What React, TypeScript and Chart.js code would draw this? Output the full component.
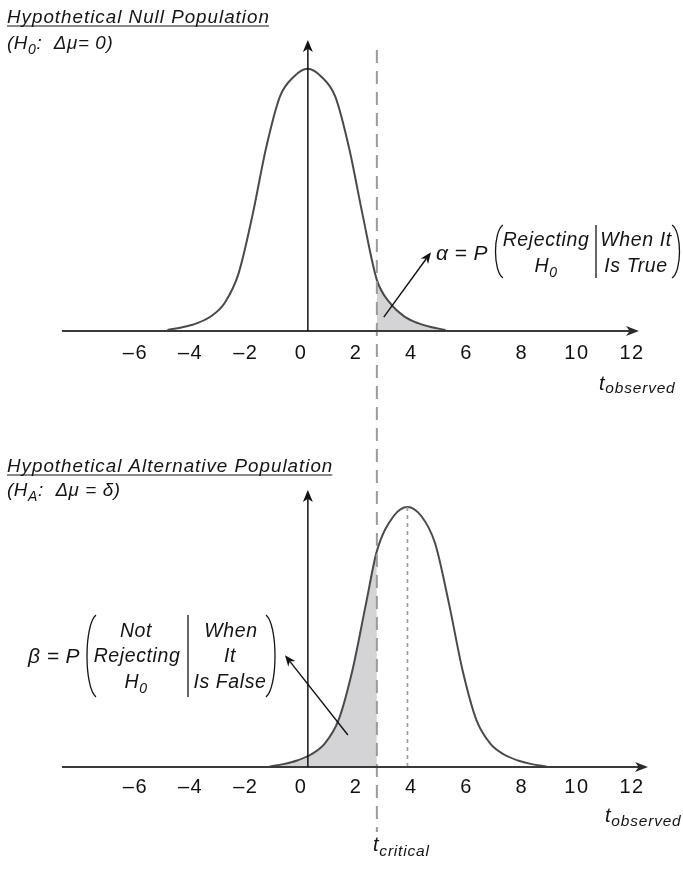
import React, { useEffect, useRef } from 'react';
import { Chart, registerables } from 'chart.js';

Chart.register(...registerables);

// ---------- data (t in axis units) ----------
const X_MIN = -8.66;
const X_MAX = 12.25;
const TICK_VALUES = [-6, -4, -2, 0, 2, 4, 6, 8, 10, 12];
const T_CRITICAL = 2.75;
const Y_AXIS_AT = 0.25;
const ALT_MEAN = 3.86;

const NULL_T = [-4.84, -4.26, -3.76, -3.26, -2.76, -2.26, -1.76, -1.26, -0.76, -0.26, 0.24, 0.74, 1.24, 1.74, 2.24, 2.75, 3.24, 3.74, 4.24, 4.74, 5.24];
const NULL_Y = [0.004, 0.015, 0.03, 0.056, 0.108, 0.22, 0.44, 0.7, 0.895, 0.97, 1.0, 0.97, 0.895, 0.7, 0.44, 0.195, 0.105, 0.056, 0.03, 0.014, 0.004];

const ALT_T = [-1.14, -0.64, -0.14, 0.36, 0.86, 1.36, 1.86, 2.36, 2.75, 3.36, 3.86, 4.36, 4.86, 5.36, 5.86, 6.36, 6.86, 7.36, 7.86, 8.36, 8.9];
const ALT_Y = [0.002, 0.011, 0.025, 0.048, 0.09, 0.18, 0.37, 0.63, 0.83, 0.965, 1.0, 0.965, 0.86, 0.63, 0.37, 0.18, 0.09, 0.048, 0.025, 0.011, 0.002];

const ALPHA_ARROW_FROM = [3.0, 0.053];
const ALPHA_ARROW_TO = [4.71, 0.3];
const BETA_ARROW_FROM = [1.7, 0.123];
const BETA_ARROW_TO = [-0.58, 0.43];

// ---------- styling ----------
const FONT = '"Liberation Sans", Arial, Helvetica, sans-serif';
const TEXT = '#141414';
const CURVE = '#4a4a4a';
const SHADE = '#d4d4d6';
const DASH = '#9a9a9a';

type Run = { t: string; s: number; dy?: number };
type TextItem = { runs: Run[]; x: number; y: number; align?: 'left' | 'center'; sp?: number; underline?: boolean };

const TEXTS: TextItem[] = [
  { runs: [{ t: 'Hypothetical Null Population', s: 18.8 }], x: 7, y: 23, sp: 1.0, underline: true },
  { runs: [{ t: '(H', s: 18.8 }, { t: '0', s: 14, dy: 5 }, { t: ':  Δμ= 0)', s: 18.8 }], x: 7, y: 49, sp: 0.6 },
  { runs: [{ t: 'Hypothetical Alternative Population', s: 18.8 }], x: 7, y: 472, sp: 1.0, underline: true },
  { runs: [{ t: '(H', s: 18.8 }, { t: 'A', s: 14, dy: 5 }, { t: ':  Δμ = δ)', s: 18.8 }], x: 7, y: 496, sp: 0.6 },
  // alpha annotation
  { runs: [{ t: 'α = P', s: 21 }], x: 436, y: 260, sp: 0.4 },
  { runs: [{ t: 'Rejecting', s: 19.5 }], x: 546, y: 246, align: 'center', sp: 0.6 },
  { runs: [{ t: 'H', s: 19.5 }, { t: '0', s: 14, dy: 5 }], x: 546, y: 272, align: 'center', sp: 0.6 },
  { runs: [{ t: 'When It', s: 19.5 }], x: 636, y: 246, align: 'center', sp: 0.6 },
  { runs: [{ t: 'Is True', s: 19.5 }], x: 636, y: 272, align: 'center', sp: 0.6 },
  // beta annotation
  { runs: [{ t: 'β = P', s: 21 }], x: 28, y: 663, sp: 0.4 },
  { runs: [{ t: 'Not', s: 19.5 }], x: 136, y: 637, align: 'center', sp: 0.6 },
  { runs: [{ t: 'Rejecting', s: 19.5 }], x: 137, y: 662, align: 'center', sp: 0.6 },
  { runs: [{ t: 'H', s: 19.5 }, { t: '0', s: 14, dy: 5 }], x: 136, y: 688, align: 'center', sp: 0.6 },
  { runs: [{ t: 'When', s: 19.5 }], x: 231, y: 637, align: 'center', sp: 0.6 },
  { runs: [{ t: 'It', s: 19.5 }], x: 230, y: 662, align: 'center', sp: 0.6 },
  { runs: [{ t: 'Is False', s: 19.5 }], x: 230, y: 688, align: 'center', sp: 0.6 },
  // axis titles
  { runs: [{ t: 't', s: 20 }, { t: 'observed', s: 15.5, dy: 3 }], x: 599, y: 390, sp: 0.8 },
  { runs: [{ t: 't', s: 20 }, { t: 'observed', s: 15.5, dy: 4 }], x: 605, y: 822, sp: 0.8 },
  { runs: [{ t: 't', s: 20 }, { t: 'critical', s: 15.5, dy: 5 }], x: 373, y: 851, sp: 0.8 },
];

// parentheses & bars (page coords)
const PARENS = [
  { x: 493, w: 10, y0: 225, y1: 278, side: 'l' },
  { x: 672, w: 10, y0: 225, y1: 278, side: 'r' },
  { x: 84, w: 12, y0: 615, y1: 697, side: 'l' },
  { x: 266, w: 12, y0: 615, y1: 697, side: 'r' },
];
const BARS = [
  { x: 596, y0: 225, y1: 278 },
  { x: 188, y0: 615, y1: 697 },
];
const DASH_Y0 = 50;
const DASH_Y1 = 832;

type Panel = {
  top: number; height: number; areaTop: number; areaBottom: number; yMax: number;
  t: number[]; y: number[]; shadeRight: boolean; tickPad: number; tipExtra: number;
  showMean: boolean; arrowFrom: number[]; arrowTo: number[];
};

const PANELS: Panel[] = [
  { top: 0, height: 435, areaTop: 40, areaBottom: 331, yMax: 1.11, t: NULL_T, y: NULL_Y, shadeRight: true, tickPad: 10, tipExtra: 0, showMean: false, arrowFrom: ALPHA_ARROW_FROM, arrowTo: ALPHA_ARROW_TO },
  { top: 435, height: 434, areaTop: 55, areaBottom: 332, yMax: 1.065, t: ALT_T, y: ALT_Y, shadeRight: false, tickPad: 8, tipExtra: 9, showMean: true, arrowFrom: BETA_ARROW_FROM, arrowTo: BETA_ARROW_TO },
];

function measureRuns(ctx: CanvasRenderingContext2D, runs: Run[]) {
  let w = 0;
  for (const r of runs) {
    ctx.font = `italic ${r.s}px ${FONT}`;
    w += ctx.measureText(r.t).width;
  }
  return w;
}

function drawText(ctx: CanvasRenderingContext2D, it: TextItem) {
  ctx.save();
  (ctx as any).letterSpacing = `${it.sp ?? 0}px`;
  ctx.fillStyle = TEXT;
  ctx.textAlign = 'left';
  ctx.textBaseline = 'alphabetic';
  const w = measureRuns(ctx, it.runs);
  let x = it.align === 'center' ? it.x - w / 2 : it.x;
  const x0 = x;
  for (const r of it.runs) {
    ctx.font = `italic ${r.s}px ${FONT}`;
    ctx.fillText(r.t, x, it.y + (r.dy ?? 0));
    x += ctx.measureText(r.t).width;
  }
  if (it.underline) {
    ctx.strokeStyle = TEXT;
    ctx.lineWidth = 1.2;
    ctx.beginPath();
    ctx.moveTo(x0, it.y + 3);
    ctx.lineTo(x0 + w - (it.sp ?? 0), it.y + 3);
    ctx.stroke();
  }
  ctx.restore();
}

function arrowHead(ctx: CanvasRenderingContext2D, tx: number, ty: number, ang: number, len: number, hw: number) {
  const c = Math.cos(ang), s = Math.sin(ang);
  const bx = tx - len * c, by = ty - len * s;
  ctx.beginPath();
  ctx.moveTo(tx, ty);
  ctx.lineTo(bx - hw * s, by + hw * c);
  ctx.lineTo(tx - len * 0.72 * c, ty - len * 0.72 * s);
  ctx.lineTo(bx + hw * s, by - hw * c);
  ctx.closePath();
  ctx.fill();
}

function arrow(ctx: CanvasRenderingContext2D, x1: number, y1: number, x2: number, y2: number, len: number, hw: number, color: string, lw: number) {
  const ang = Math.atan2(y2 - y1, x2 - x1);
  ctx.save();
  ctx.strokeStyle = color;
  ctx.fillStyle = color;
  ctx.lineWidth = lw;
  ctx.beginPath();
  ctx.moveTo(x1, y1);
  ctx.lineTo(x2 - len * 0.75 * Math.cos(ang), y2 - len * 0.75 * Math.sin(ang));
  ctx.stroke();
  arrowHead(ctx, x2, y2, ang, len, hw);
  ctx.restore();
}

function makeOverlay(p: Panel) {
  return {
    id: 'overlay',
    beforeDraw(chart: any) {
      (chart.ctx as any).letterSpacing = '1.5px';
    },
    afterDatasetsDraw(chart: any) {
      const ctx: CanvasRenderingContext2D = chart.ctx;
      (ctx as any).letterSpacing = '0px';
      const xs = chart.scales.x, ys = chart.scales.y;
      ctx.save();
      if (p.showMean) {
        const mx = xs.getPixelForValue(ALT_MEAN);
        ctx.strokeStyle = DASH;
        ctx.lineWidth = 1.6;
        ctx.setLineDash([4, 4]);
        ctx.beginPath();
        ctx.moveTo(mx, ys.getPixelForValue(0));
        ctx.lineTo(mx, ys.getPixelForValue(Math.max(...p.y)));
        ctx.stroke();
      }
      const cx = xs.getPixelForValue(T_CRITICAL);
      ctx.strokeStyle = DASH;
      ctx.lineWidth = 2;
      ctx.setLineDash([13, 8]);
      ctx.beginPath();
      ctx.moveTo(cx, DASH_Y0 - p.top);
      ctx.lineTo(cx, DASH_Y1 - p.top);
      ctx.stroke();
      ctx.setLineDash([]);
      ctx.restore();
    },
    afterDraw(chart: any) {
      const ctx: CanvasRenderingContext2D = chart.ctx;
      (ctx as any).letterSpacing = '0px';
      const xs = chart.scales.x, ys = chart.scales.y;
      const area = chart.chartArea;
      const y0 = ys.getPixelForValue(0);
      ctx.save();
      ctx.strokeStyle = '#3a3a3a';
      ctx.fillStyle = '#2a2a2a';
      ctx.lineWidth = 1.8;
      const tip = area.right + p.tipExtra;
      ctx.beginPath();
      ctx.moveTo(area.left, y0);
      ctx.lineTo(tip - 8, y0);
      ctx.stroke();
      arrowHead(ctx, tip, y0, 0, 13, 5);
      ctx.restore();
      const ax = xs.getPixelForValue(Y_AXIS_AT);
      arrow(ctx, ax, y0, ax, area.top, 12, 5, '#111', 1.5);
      arrow(ctx, xs.getPixelForValue(p.arrowFrom[0]), ys.getPixelForValue(p.arrowFrom[1]),
        xs.getPixelForValue(p.arrowTo[0]), ys.getPixelForValue(p.arrowTo[1]), 11, 4.5, '#111', 1.4);
      ctx.save();
      ctx.translate(0, -p.top);
      ctx.strokeStyle = TEXT;
      ctx.lineWidth = 1.3;
      for (const pr of PARENS) {
        const h = pr.y1 - pr.y0;
        const outer = pr.side === 'l' ? pr.x : pr.x + pr.w;
        const inner = pr.side === 'l' ? pr.x + pr.w : pr.x;
        ctx.beginPath();
        ctx.moveTo(inner, pr.y0);
        ctx.bezierCurveTo(outer, pr.y0 + h * 0.12, outer, pr.y1 - h * 0.12, inner, pr.y1);
        ctx.stroke();
      }
      for (const b of BARS) {
        ctx.beginPath();
        ctx.moveTo(b.x, b.y0);
        ctx.lineTo(b.x, b.y1);
        ctx.stroke();
      }
      for (const it of TEXTS) drawText(ctx, it);
      ctx.restore();
    },
  };
}

function PanelChart({ p }: { p: Panel }) {
  const ref = useRef<HTMLCanvasElement>(null);
  useEffect(() => {
    if (!ref.current) return;
    const pts = p.t.map((t, i) => ({ x: t, y: p.y[i] }));
    const shadePts = pts.filter((pt) => (p.shadeRight ? pt.x >= T_CRITICAL : pt.x <= T_CRITICAL));
    const chart = new Chart(ref.current, {
      type: 'line',
      data: {
        datasets: [
          {
            data: pts,
            borderColor: CURVE,
            borderWidth: 2,
            pointRadius: 0,
            fill: false,
            cubicInterpolationMode: 'monotone',
          },
          {
            data: shadePts,
            borderWidth: 0,
            borderColor: 'rgba(0,0,0,0)',
            backgroundColor: SHADE,
            pointRadius: 0,
            fill: 'origin',
            cubicInterpolationMode: 'monotone',
          },
        ],
      } as any,
      options: {
        responsive: false,
        maintainAspectRatio: false,
        animation: false,
        events: [],
        layout: { padding: { left: 62, right: 44, top: p.areaTop, bottom: 0 } },
        plugins: { legend: { display: false }, tooltip: { enabled: false } },
        scales: {
          x: {
            type: 'linear',
            min: X_MIN,
            max: X_MAX,
            grid: { display: false, drawTicks: false, tickLength: 0 },
            border: { display: false },
            afterBuildTicks: (scale: any) => {
              scale.ticks = TICK_VALUES.map((v) => ({ value: v }));
            },
            afterFit: (scale: any) => {
              scale.height = p.height - p.areaBottom;
            },
            ticks: {
              autoSkip: false,
              maxRotation: 0,
              padding: p.tickPad,
              color: '#111',
              font: { family: FONT, size: 20, lineHeight: 1.2 },
              callback: (v: any) => (Number(v) < 0 ? '\u2013' + Math.abs(Number(v)) : String(v)),
            },
          },
          y: {
            type: 'linear',
            display: false,
            min: 0,
            max: p.yMax,
          },
        },
      } as any,
      plugins: [makeOverlay(p)],
    });
    return () => chart.destroy();
  }, [p]);
  return (
    <canvas
      ref={ref}
      width={683}
      height={p.height}
      style={{ position: 'absolute', left: 0, top: p.top, display: 'block', width: 683, height: p.height }}
    />
  );
}

export default function App() {
  useEffect(() => {
    document.body.style.margin = '0';
    document.body.style.background = '#ffffff';
  }, []);
  return (
    <div style={{ position: 'relative', width: 683, height: 869, background: '#fff', overflow: 'hidden' }}>
      {PANELS.map((p, i) => (
        <PanelChart key={i} p={p} />
      ))}
    </div>
  );
}
